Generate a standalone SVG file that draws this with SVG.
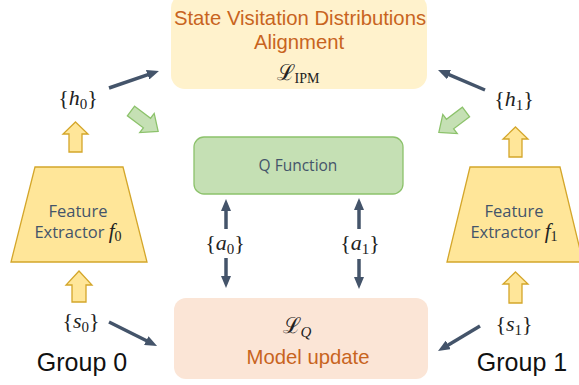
<svg xmlns="http://www.w3.org/2000/svg" width="579" height="385" viewBox="0 0 579 385">
<style>
.title{font-family:"Liberation Sans",Arial,sans-serif;font-size:20.3px;fill:#C8641E;text-anchor:middle}
.lbl{font-family:"Open Sans","Noto Sans",sans-serif;font-size:16.5px;fill:#44546A;text-anchor:middle}
.math{font-family:"Liberation Serif","DejaVu Serif",serif;font-size:22px;fill:#222;text-anchor:middle}
.it{font-style:italic}
.grp{font-family:"Liberation Sans",Arial,sans-serif;font-size:25px;fill:#111;text-anchor:middle}
.dark{stroke:#44546A;stroke-width:3.5;fill:none}
.yel{fill:#FFE699;stroke:#D4A62A;stroke-width:1.3}
.grn{fill:#C5E0B4;stroke:#8CC26B;stroke-width:1.3}
</style>
<defs>
<marker id="ah" viewBox="0 0 12 10" refX="2" refY="5" markerWidth="12" markerHeight="10" markerUnits="userSpaceOnUse" orient="auto">
<path d="M0,0 L12,5 L0,10 z" fill="#44546A"/>
</marker>
</defs>
<rect width="579" height="385" fill="#fff"/>

<g id="node-ipm">
<rect x="171" y="-6" width="256" height="95" rx="14" fill="#FFF2CC"/>
<text class="title" x="300" y="25">State Visitation Distributions</text>
<text class="title" x="299" y="49">Alignment</text>
<text class="math" x="298" y="80">ℒ<tspan font-size="14" dy="3">IPM</tspan></text>
</g>

<g id="node-q">
<rect x="194" y="137" width="209" height="57" rx="10" class="grn"/>
<text class="lbl" x="298" y="171" style="font-size:15.5px">Q Function</text>
</g>

<g id="node-update">
<rect x="174" y="298" width="254" height="81" rx="12" fill="#FBE5D6"/>
<text class="math" x="297" y="333">ℒ<tspan font-size="15" dy="4" class="it">Q</tspan></text>
<text class="title" x="308" y="364">Model update</text>
</g>

<g id="node-f0">
<polygon points="35,167 123,167 147,262 11,262" class="yel"/>
<text class="lbl" x="78" y="217">Feature</text>
<text class="lbl" x="78" y="238">Extractor <tspan class="it" font-family="Liberation Serif,serif" font-size="21" fill="#222">f</tspan><tspan font-family="Liberation Serif,serif" font-size="14" dy="3" fill="#222">0</tspan></text>
</g>

<g id="node-f1">
<polygon points="470,167 560,167 583,262 447,262" class="yel"/>
<text class="lbl" x="514" y="217">Feature</text>
<text class="lbl" x="514" y="238">Extractor <tspan class="it" font-family="Liberation Serif,serif" font-size="21" fill="#222">f</tspan><tspan font-family="Liberation Serif,serif" font-size="14" dy="3" fill="#222">1</tspan></text>
</g>

<g id="node-h0"><text class="math" x="78" y="105">{<tspan class="it">h</tspan><tspan font-size="15" dy="4">0</tspan><tspan dy="-4">}</tspan></text></g>
<g id="node-h1"><text class="math" x="514" y="106">{<tspan class="it">h</tspan><tspan font-size="15" dy="4">1</tspan><tspan dy="-4">}</tspan></text></g>
<g id="node-s0"><text class="math" x="81" y="328">{<tspan class="it">s</tspan><tspan font-size="15" dy="4">0</tspan><tspan dy="-4">}</tspan></text></g>
<g id="node-s1"><text class="math" x="514" y="331">{<tspan class="it">s</tspan><tspan font-size="15" dy="4">1</tspan><tspan dy="-4">}</tspan></text></g>
<g id="node-a0"><text class="math" x="225" y="250">{<tspan class="it">a</tspan><tspan font-size="15" dy="4">0</tspan><tspan dy="-4">}</tspan></text></g>
<g id="node-a1"><text class="math" x="360" y="250">{<tspan class="it">a</tspan><tspan font-size="15" dy="4">1</tspan><tspan dy="-4">}</tspan></text></g>

<g id="label-group0"><text class="grp" x="82" y="371">Group 0</text></g>
<g id="label-group1"><text class="grp" x="522" y="371">Group 1</text></g>

<g id="connectors">
<line x1="109" y1="88" x2="149.5" y2="74.2" class="dark" marker-end="url(#ah)"/>
<line x1="485" y1="90" x2="447.2" y2="73.9" class="dark" marker-end="url(#ah)"/>
<line x1="109" y1="322" x2="148.1" y2="341.5" class="dark" marker-end="url(#ah)"/>
<line x1="480" y1="326" x2="446.6" y2="345.9" class="dark" marker-end="url(#ah)"/>
<line x1="226" y1="229" x2="226" y2="209" class="dark" marker-end="url(#ah)"/>
<line x1="226" y1="258" x2="226" y2="278" class="dark" marker-end="url(#ah)"/>
<line x1="359" y1="229" x2="359" y2="208" class="dark" marker-end="url(#ah)"/>
<line x1="359" y1="259" x2="359" y2="279" class="dark" marker-end="url(#ah)"/>
<polygon class="yel" points="75.5,122 88,134 82,134 82,152 69,152 69,134 63,134"/>
<polygon class="yel" points="79,271 92,285 86,285 86,302 72,302 72,285 66,285"/>
<polygon class="yel" points="515.5,127 528,139 522,139 522,157 509,157 509,139 503,139"/>
<polygon class="yel" points="515.5,272 528,284 522,284 522,303 509,303 509,284 503,284"/>
<polygon class="grn" transform="translate(131,111) rotate(37)" points="0,-6 20,-6 20,-12 34,0 20,12 20,6 0,6"/>
<polygon class="grn" transform="translate(466,112) rotate(143)" points="0,-6 20,-6 20,-12 34,0 20,12 20,6 0,6"/>
</g>
</svg>
